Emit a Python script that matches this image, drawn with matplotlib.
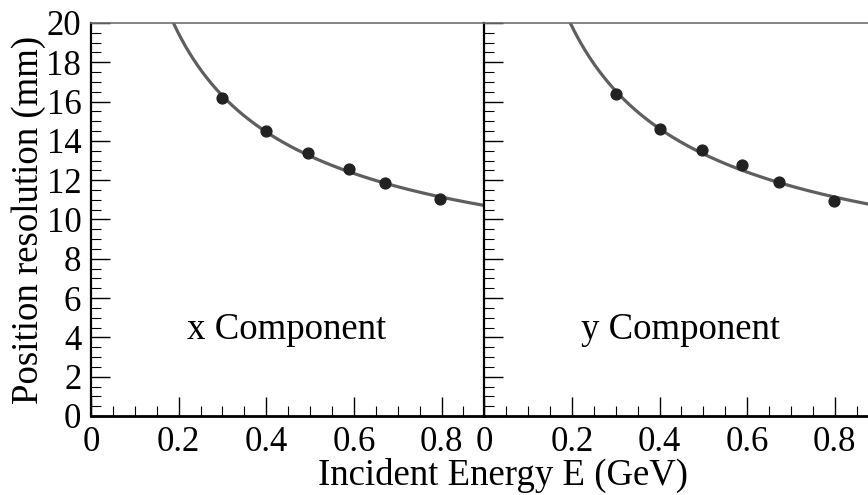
import numpy as np
import matplotlib.pyplot as plt
from matplotlib.ticker import MultipleLocator

# measured points (E in GeV, resolution in mm)
energy_x = [0.30, 0.40, 0.495, 0.588, 0.671, 0.797]
sigma_x = [16.17, 14.50, 13.37, 12.57, 11.86, 11.04]
energy_y = [0.30, 0.40, 0.496, 0.588, 0.673, 0.798]
sigma_y = [16.37, 14.59, 13.52, 12.79, 11.89, 10.96]

# fit parameters: sigma = sqrt(a^2/E + b^2)
fit_x = (8.24, 6.26)
fit_y = (8.47, 5.87)

panel_labels = ['x Component', 'y Component']
x_ticks = [0, 0.2, 0.4, 0.6, 0.8]
y_ticks = [0, 2, 4, 6, 8, 10, 12, 14, 16, 18, 20]

plt.rcParams['font.family'] = ['Liberation Serif', 'DejaVu Serif']

W, H = 868, 495
fig = plt.figure(figsize=(W / 100, H / 100), dpi=100)

left, bottom, width, height = 91 / W, (H - 416) / H, 393 / W, 393 / H
ax1 = fig.add_axes([left, bottom, width, height])
ax2 = fig.add_axes([484.3 / W, bottom, width, height])

e_curve = np.linspace(0.05, 0.9, 400)
datasets = [(ax1, energy_x, sigma_x, fit_x), (ax2, energy_y, sigma_y, fit_y)]
for i, (ax, e, s, (a, b)) in enumerate(datasets):
    ax.plot(e_curve, np.sqrt(a**2 / e_curve + b**2), color='#5f5f5f', lw=2.3, zorder=2)
    ax.plot(e, s, 'o', color='#222222', ms=7.8, zorder=3)
    ax.set_xlim(0, 0.897)
    ax.set_ylim(0, 20)
    ax.set_xticks(x_ticks)
    ax.set_xticklabels([f'{t:g}' for t in x_ticks])
    ax.xaxis.set_minor_locator(MultipleLocator(0.05))
    ax.set_yticks(y_ticks)
    ax.yaxis.set_minor_locator(MultipleLocator(0.5))
    ax.tick_params(which='both', direction='in', top=False, right=False, labelsize=25, pad=7)
    ax.tick_params(which='major', length=14, width=1.0)
    ax.tick_params(which='minor', length=7.5, width=0.8)
    ax.spines['right'].set_visible(False)
    ax.spines['top'].set_color('#707070')
    ax.spines['top'].set_linewidth(1.2)
    ax.spines['left'].set_linewidth(1.6)
    ax.spines['bottom'].set_linewidth(2.0)
    ax.text(0.447, 3.92, panel_labels[i], ha='center', va='baseline', fontsize=26.5)

ax2.tick_params(axis='y', labelleft=False)
ax1.set_ylabel('Position resolution (mm)', fontsize=26.5, labelpad=0)
fig.text(503.5 / W, 1 - 485 / H, 'Incident Energy E (GeV)', ha='center', va='baseline', fontsize=26.5)

fig.savefig('out.png', dpi=100)
